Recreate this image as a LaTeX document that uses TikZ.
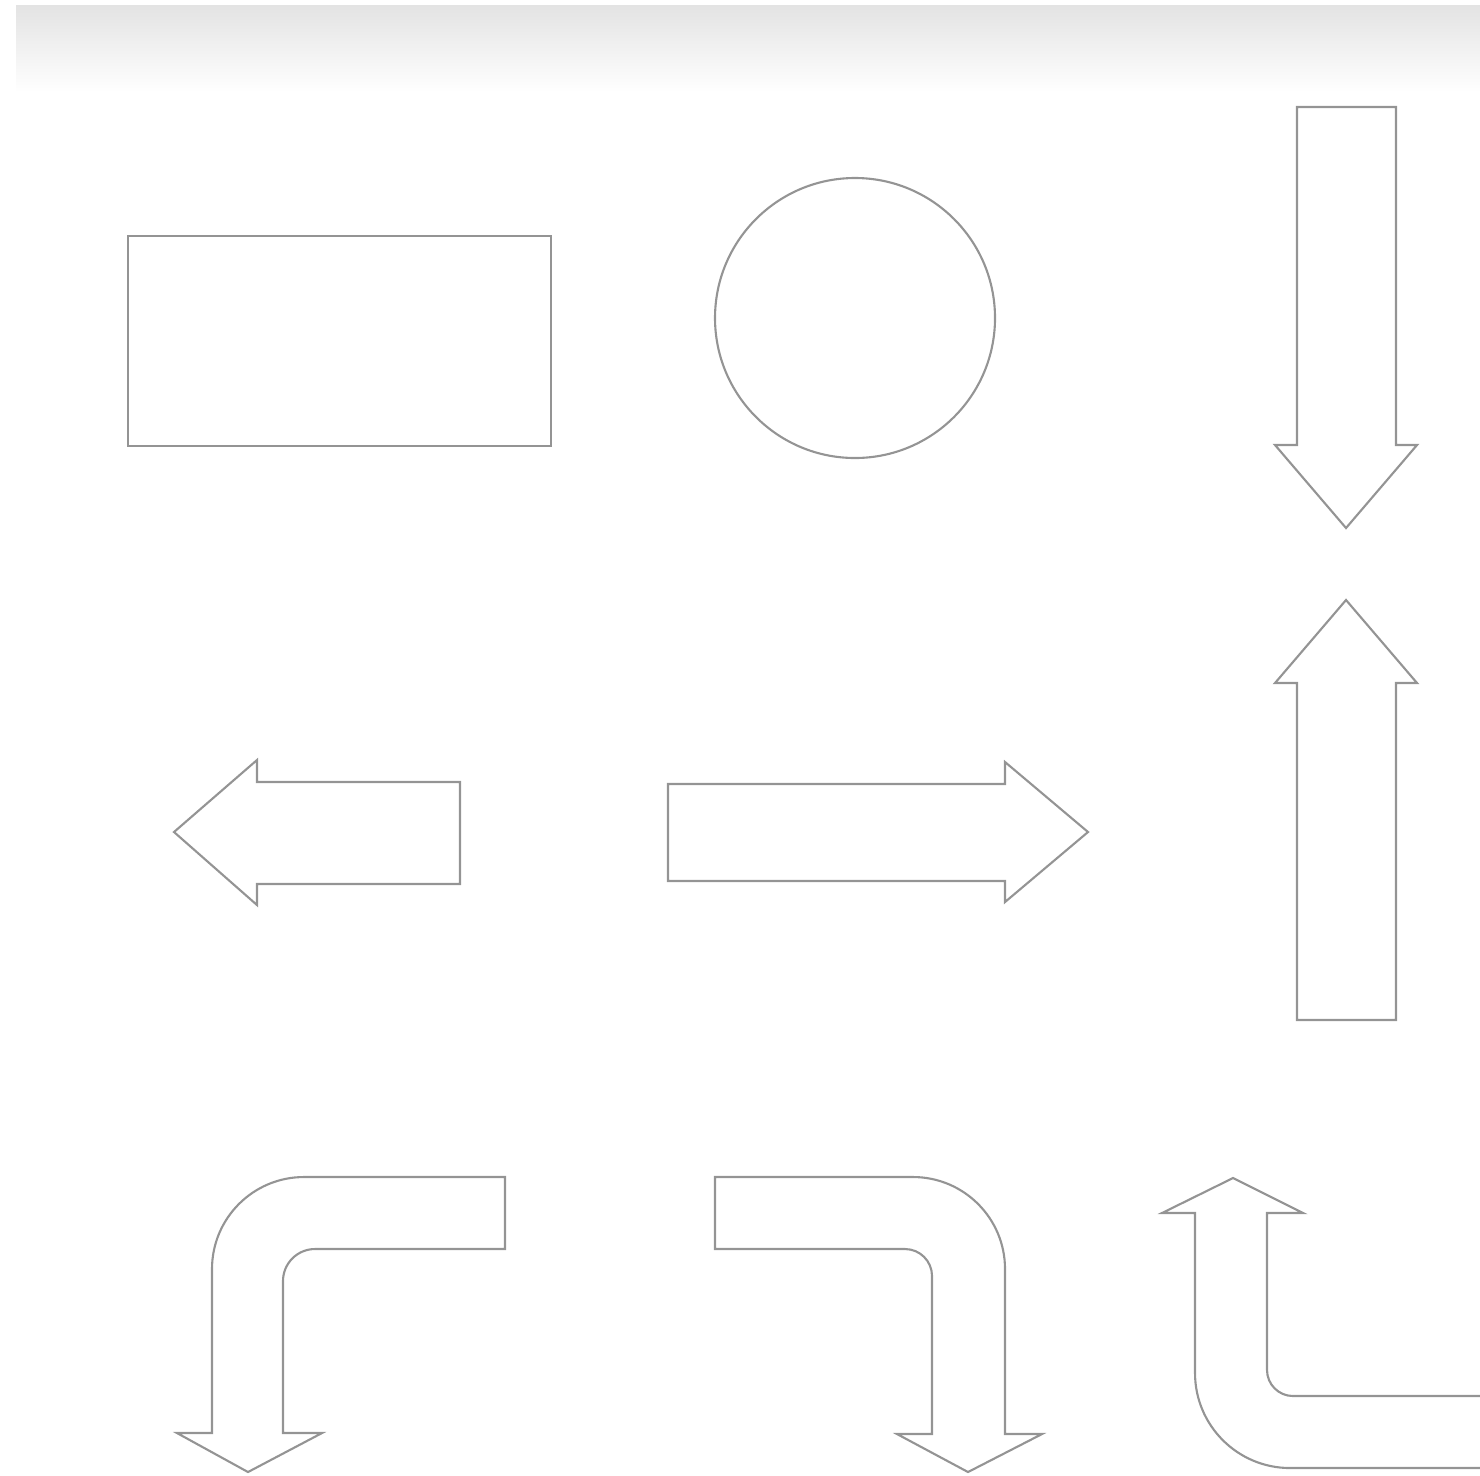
\documentclass[tikz,border=0pt]{standalone}
\usepackage{tikz}
\usetikzlibrary{arrows.meta, positioning}

\begin{document}
\begin{tikzpicture}[x=0.01cm, y=-0.01cm,
		outline/.style={draw=black!42, line width=0.6pt, line join=miter},
		band/.style={top color=black!11, bottom color=white}]
		
		\useasboundingbox (0,0) rectangle (1480,1475);
		\shade[band] (16,5) rectangle (1480,92);
		
		\draw[outline] (128,236) rectangle (551,446);
		\draw[outline] (855,318) circle[radius=140];
		
		\draw[outline] (1297,107) -- (1396,107) -- (1396,445) -- (1417,445) -- (1346,528)
			-- (1275,445) -- (1297,445) -- cycle;
		\draw[outline] (1297,1020) -- (1396,1020) -- (1396,683) -- (1417,683) -- (1346,600)
			-- (1275,683) -- (1297,683) -- cycle;
		
		\draw[outline] (460,782) -- (460,884) -- (257,884) -- (257,905) -- (174,832)
			-- (257,760) -- (257,782) -- cycle;
		\draw[outline] (668,784) -- (668,881) -- (1005,881) -- (1005,902) -- (1088,832)
			-- (1005,762) -- (1005,784) -- cycle;
		
		\draw[outline] (505,1177) -- (304,1177) arc[start angle=270, end angle=180, radius=92]
			-- (212,1433) -- (177,1433) -- (248,1472) -- (322,1433) -- (283,1433)
			-- (283,1281) arc[start angle=180, end angle=270, radius=32] -- (505,1249) -- cycle;
		\draw[outline] (715,1177) -- (913,1177) arc[start angle=270, end angle=360, radius=92]
			-- (1005,1434) -- (1042,1434) -- (968,1472) -- (897,1434) -- (932,1434)
			-- (932,1276) arc[start angle=0, end angle=-90, radius=27] -- (715,1249) -- cycle;
		\draw[outline] (1480,1396) -- (1293,1396) arc[start angle=90, end angle=180, radius=26]
			-- (1267,1213) -- (1303,1213) -- (1233,1178) -- (1162,1213) -- (1195,1213)
			-- (1195,1373) arc[start angle=180, end angle=90, radius=95] -- (1480,1468);
		
	\end{tikzpicture}
\end{document}
